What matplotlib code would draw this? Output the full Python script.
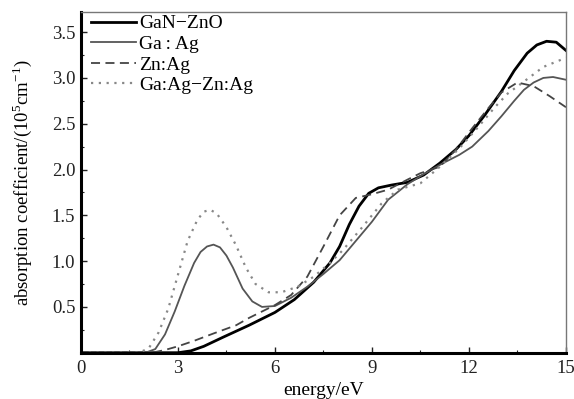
import matplotlib
matplotlib.use("Agg")
import matplotlib.pyplot as plt
from matplotlib.ticker import MultipleLocator

plt.rcParams['font.family'] = ['Liberation Serif', 'DejaVu Serif']
plt.rcParams['mathtext.fontset'] = 'custom'
plt.rcParams['mathtext.rm'] = 'Liberation Serif'

# GaN-ZnO
x_gan = [0, 3.0, 3.4, 3.8, 4.4, 5.2, 6.0, 6.6, 7.2, 7.7, 8.0, 8.3, 8.6, 8.9, 9.2, 9.6, 10.1,
         10.6, 11.1, 11.6, 12.0, 12.5, 13.0, 13.4, 13.8, 14.1, 14.4, 14.7, 15.0]
y_gan = [0, 0, 0.02, 0.07, 0.17, 0.30, 0.44, 0.58, 0.77, 0.98, 1.16, 1.40, 1.60, 1.74, 1.80,
         1.83, 1.86, 1.94, 2.07, 2.22, 2.37, 2.60, 2.85, 3.08, 3.27, 3.36, 3.40, 3.39, 3.30]

# Ga:Ag
x_ga = [0, 2.0, 2.3, 2.6, 2.9, 3.2, 3.5, 3.7, 3.9, 4.1, 4.3, 4.5, 4.7, 5.0, 5.3, 5.6, 6.0,
        6.5, 7.0, 7.5, 8.0, 8.5, 9.0, 9.5, 10.1, 10.6, 11.2, 11.7, 12.1, 12.6, 13.0, 13.4,
        13.7, 14.0, 14.3, 14.6, 15.0]
y_ga = [0, 0, 0.04, 0.20, 0.45, 0.73, 0.98, 1.10, 1.16, 1.18, 1.15, 1.06, 0.93, 0.70, 0.56,
        0.50, 0.51, 0.60, 0.72, 0.86, 1.01, 1.22, 1.43, 1.67, 1.84, 1.95, 2.07, 2.16, 2.25,
        2.42, 2.58, 2.75, 2.87, 2.95, 3.00, 3.01, 2.98]

# Zn:Ag
x_zn = [0, 2.2, 2.6, 3.0, 3.5, 4.1, 4.8, 5.2, 6.0, 6.5, 7.0, 7.5, 8.0, 8.5, 9.0, 9.5, 10.1,
        10.5, 11.1, 11.6, 12.1, 12.6, 13.0, 13.5, 14.0, 14.5, 15.0]
y_zn = [0, 0, 0.03, 0.07, 0.13, 0.21, 0.30, 0.38, 0.52, 0.63, 0.83, 1.16, 1.50, 1.69, 1.73,
        1.78, 1.89, 1.96, 2.03, 2.22, 2.45, 2.67, 2.84, 2.95, 2.91, 2.80, 2.68]

# Ga:Ag-Zn:Ag
x_mix = [0, 1.8, 2.1, 2.4, 2.7, 3.0, 3.3, 3.6, 3.8, 4.0, 4.2, 4.5, 4.8, 5.1, 5.4, 5.8, 6.2,
         6.7, 7.2, 7.7, 8.1, 8.7, 9.3, 9.8, 10.5, 11.1, 11.7, 12.3, 12.8, 13.2, 13.7, 14.3, 15.0]
y_mix = [0, 0, 0.05, 0.22, 0.48, 0.85, 1.22, 1.45, 1.54, 1.56, 1.52, 1.37, 1.17, 0.93, 0.75,
         0.66, 0.66, 0.72, 0.83, 0.98, 1.12, 1.37, 1.63, 1.78, 1.85, 2.03, 2.23, 2.47, 2.68,
         2.83, 2.96, 3.12, 3.22]

fig = plt.figure(figsize=(5.74, 3.99), dpi=100)
ax = fig.add_axes([0.141, 0.116, 0.845, 0.854])

ax.plot(x_gan, y_gan, color='black', lw=2.0, label='GaN\u2212ZnO')
ax.plot(x_ga, y_ga, color='#555555', lw=1.3, label='Ga\u2009:\u2009Ag')
ax.plot(x_zn, y_zn, color='#444444', lw=1.3, ls=(0, (5, 3)), label='Zn:Ag')
ax.plot(x_mix, y_mix, color='#888888', lw=1.6, ls=(0, (1, 2.5)), label='Ga:Ag\u2212Zn:Ag')

ax.set_xlim(0, 15)
ax.set_ylim(0, 3.72)
ax.xaxis.set_major_locator(MultipleLocator(3))
ax.xaxis.set_minor_locator(MultipleLocator(1.5))
ax.set_yticks([0.5, 1.0, 1.5, 2.0, 2.5, 3.0, 3.5])
ax.yaxis.set_minor_locator(MultipleLocator(0.25))
ax.tick_params(which='both', direction='in', labelsize=13.5, colors='#222222')
ax.tick_params(which='major', length=4, width=1)
ax.tick_params(which='minor', length=2.5, width=0.8)
ax.tick_params(axis='x', pad=5)
ax.tick_params(axis='y', pad=4)

for s in ['left', 'bottom']:
    ax.spines[s].set_linewidth(2.2)
    ax.spines[s].set_color('black')
for s in ['top', 'right']:
    ax.spines[s].set_linewidth(1.0)
    ax.spines[s].set_color('#777777')

ax.set_xlabel('energy/eV', fontsize=14, labelpad=4)
ax.set_ylabel(r'absorption coefficient/(10$^{5}$cm$^{-1}$)', fontsize=13.5, labelpad=13)

ax.legend(loc='upper left', frameon=False, fontsize=14, handlelength=2.3,
          handletextpad=0.15, labelspacing=0.15, borderaxespad=0.0,
          borderpad=0.15, bbox_to_anchor=(0.015, 1.0))

fig.savefig('out.png', dpi=100)
